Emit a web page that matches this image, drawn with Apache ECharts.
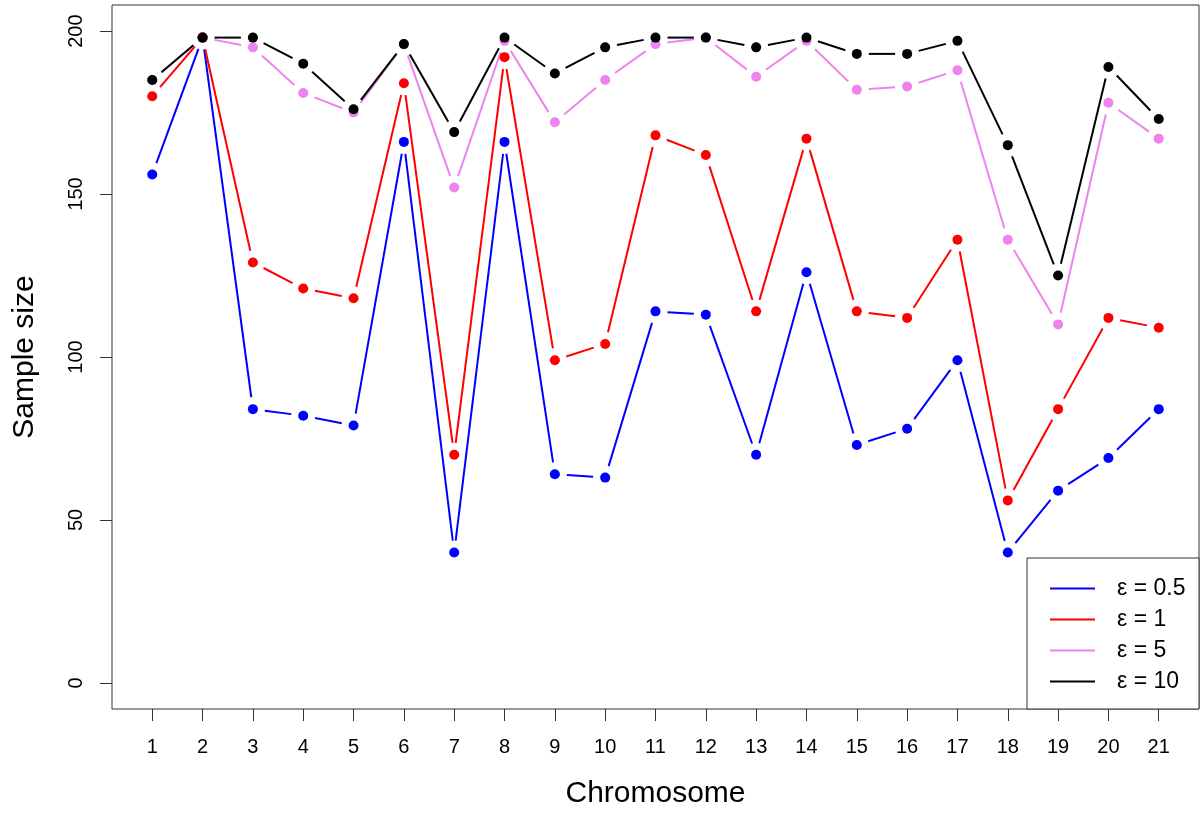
<!DOCTYPE html>
<html>
<head>
<meta charset="utf-8">
<script src="https://cdn.jsdelivr.net/npm/echarts@6/dist/echarts.min.js"></script>
<style>
html,body{margin:0;padding:0;background:#fff;}
#chart{width:1201px;height:814px;}
</style>
</head>
<body>
<div id="chart"></div>
<script>
// ---- data ----
const chromosomes = [1,2,3,4,5,6,7,8,9,10,11,12,13,14,15,16,17,18,19,20,21];
const eps05 = [156,198,84,82,79,166,40,166,64,63,114,113,70,126,73,78,99,40,59,69,84];
const eps1  = [180,198,129,121,118,184,70,192,99,104,168,162,114,167,114,112,136,56,84,112,109];
const eps5  = [185,198,195,181,175,196,152,197,172,185,196,198,186,197,182,183,188,136,110,178,167];
const eps10 = [185,198,198,190,176,196,169,198,187,195,198,198,195,198,193,193,197,165,125,189,173];
const seriesNames = ['ε = 0.5','ε = 1','ε = 5','ε = 10'];
const seriesValues = [eps05, eps1, eps5, eps10];
const seriesColors = ['#0000FF','#FF0000','#EE82EE','#000000'];
const yTicks = [0,50,100,150,200];

const FONT = "'Liberation Sans', Arial, sans-serif";
const GAP = 12; // gap around points (type = "b")

function segData(vals){
  const out = [];
  for (let i = 0; i < chromosomes.length - 1; i++) {
    out.push([chromosomes[i], vals[i], chromosomes[i+1], vals[i+1]]);
  }
  return out;
}

function makeRender(color){
  return function(params, api){
    const p0 = api.coord([api.value(0), api.value(1)]);
    const p1 = api.coord([api.value(2), api.value(3)]);
    const dx = p1[0]-p0[0], dy = p1[1]-p0[1];
    const len = Math.sqrt(dx*dx+dy*dy);
    if (len <= 2*GAP) return null;
    const ux = dx/len, uy = dy/len;
    return {
      type:'line',
      shape:{x1:p0[0]+ux*GAP, y1:p0[1]+uy*GAP, x2:p1[0]-ux*GAP, y2:p1[1]-uy*GAP},
      style:{stroke:color, lineWidth:2, fill:null}
    };
  };
}

const series = [];
seriesNames.forEach((name, k) => {
  series.push({
    name: name,
    type: 'custom',
    renderItem: makeRender(seriesColors[k]),
    data: segData(seriesValues[k]),
    encode: {x:[0,2], y:[1,3]},
    itemStyle: {color: seriesColors[k]},
    clip: false,
    silent: true
  });
  series.push({
    name: name,
    type: 'scatter',
    data: chromosomes.map((c,i) => [c, seriesValues[k][i]]),
    symbol: 'circle',
    symbolSize: 10,
    itemStyle: {color: seriesColors[k], opacity: 1, borderWidth: 0},
    silent: true
  });
});

const chart = echarts.init(document.getElementById('chart'), null, {renderer:'canvas'});
chart.setOption({
  animation: false,
  backgroundColor: '#fff',
  grid: {left:112, right:2, top:5, bottom:105, show:true, borderColor:'#333', borderWidth:1, backgroundColor:'transparent'},
  xAxis: {
    type:'value', min:0.2, max:21.8,
    name:'Chromosome', nameLocation:'middle', nameGap:70,
    nameTextStyle:{fontFamily:FONT, fontSize:30, color:'#000'},
    axisLine:{show:false, onZero:false},
    splitLine:{show:false},
    axisTick:{show:true, length:12, lineStyle:{color:'#333'}, customValues: chromosomes},
    axisLabel:{fontFamily:FONT, fontSize:20, color:'#000', margin:28, customValues: chromosomes}
  },
  yAxis: {
    type:'value', min:-8, max:208,
    name:'Sample size', nameLocation:'middle', nameGap:72,
    nameTextStyle:{fontFamily:FONT, fontSize:30, color:'#000'},
    axisLine:{show:false, onZero:false},
    splitLine:{show:false},
    axisTick:{show:true, length:12, lineStyle:{color:'#333'}, customValues: yTicks},
    axisLabel:{fontFamily:FONT, fontSize:20, color:'#000', margin:26, rotate:90, customValues: yTicks}
  },
  legend: {
    data: seriesNames,
    orient:'vertical',
    left:1050, top:577,
    padding:0,
    itemGap:8,
    itemWidth:45, itemHeight:2,
    icon:'rect',
    selectedMode:false,
    z: 10,
    textStyle:{fontFamily:FONT, fontSize:23, color:'#000', lineHeight:22, padding:[0,0,0,17]}
  },
  graphic: [{
    type:'rect', z: 5,
    shape:{x:1027, y:558, width:172, height:151},
    style:{fill:'#fff', stroke:'#333', lineWidth:1}
  }],
  series: series
});
</script>
</body>
</html>
